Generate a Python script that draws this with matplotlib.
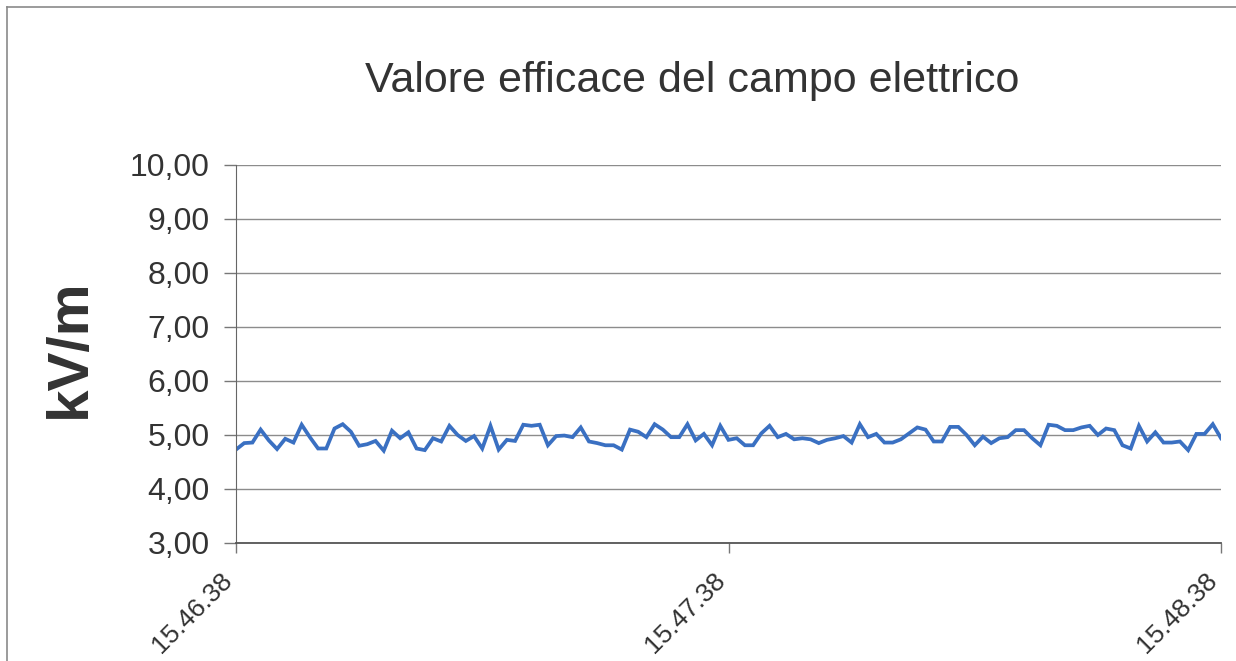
import matplotlib
matplotlib.use("Agg")
import matplotlib.pyplot as plt
from matplotlib.lines import Line2D
from matplotlib.transforms import ScaledTranslation

plt.rcParams['font.family'] = ['Liberation Sans', 'DejaVu Sans']

# un campione al secondo, dalle 15.46.38 alle 15.48.38
seconds = list(range(121))
campo_kvm = [
    4.73, 4.85, 4.86, 5.10, 4.90, 4.74, 4.93, 4.86, 5.19, 4.96,
    4.75, 4.75, 5.12, 5.20, 5.06, 4.80, 4.83, 4.89, 4.71, 5.08,
    4.94, 5.05, 4.75, 4.72, 4.94, 4.88, 5.17, 5.00, 4.89, 4.98,
    4.75, 5.17, 4.73, 4.91, 4.89, 5.19, 5.17, 5.19, 4.81, 4.98,
    4.99, 4.96, 5.14, 4.88, 4.85, 4.81, 4.81, 4.73, 5.10, 5.06,
    4.96, 5.20, 5.10, 4.96, 4.96, 5.20, 4.90, 5.02, 4.81, 5.17,
    4.91, 4.94, 4.81, 4.81, 5.03, 5.17, 4.96, 5.02, 4.92, 4.94,
    4.92, 4.85, 4.91, 4.94, 4.98, 4.86, 5.20, 4.96, 5.02, 4.86,
    4.86, 4.92, 5.03, 5.14, 5.10, 4.88, 4.88, 5.15, 5.15, 5.00,
    4.81, 4.97, 4.85, 4.94, 4.96, 5.09, 5.09, 4.94, 4.81, 5.19,
    5.17, 5.09, 5.09, 5.14, 5.17, 5.00, 5.12, 5.09, 4.81, 4.75,
    5.17, 4.88, 5.05, 4.86, 4.86, 4.88, 4.72, 5.02, 5.02, 5.20,
    4.94,
]
tick_pos = [0, 60, 120]
tick_labels = ['15.46.38', '15.47.38', '15.48.38']
y_ticks = [3, 4, 5, 6, 7, 8, 9, 10]

fig = plt.figure(figsize=(12.36, 6.61), dpi=100)
ax = fig.add_axes([236 / 1236, 1 - 543 / 661, (1221 - 236) / 1236, (543 - 165) / 661])

# cornice del grafico (solo bordo sinistro e superiore visibili)
fig.add_artist(Line2D([7 / 1236, 7 / 1236], [0, 1 - 7 / 661], transform=fig.transFigure,
                      color='#8a8a8a', lw=1.2))
fig.add_artist(Line2D([7 / 1236, 1], [1 - 7 / 661, 1 - 7 / 661], transform=fig.transFigure,
                      color='#8a8a8a', lw=1.2))

ax.plot(seconds, campo_kvm, color='#3a70c2', lw=2.7, solid_joinstyle='miter')

ax.set_xlim(0, 120)
ax.set_ylim(3, 10)
ax.set_yticks(y_ticks)
ax.set_yticklabels([f'{v:.2f}'.replace('.', ',') for v in y_ticks], fontsize=23, color='#333333')
ax.set_xticks(tick_pos)
ax.set_xticklabels(tick_labels, rotation=45, ha='right', rotation_mode='anchor',
                   fontsize=19, color='#333333')
ax.tick_params(axis='y', length=9, width=1, color='#777777', pad=10)
ax.tick_params(axis='x', length=7, width=1, color='#777777', pad=4)

# sposta le etichette dell'asse x come nell'originale
shift = ScaledTranslation(-16 / 100, -10 / 100, fig.dpi_scale_trans)
for lab in ax.get_xticklabels():
    lab.set_transform(lab.get_transform() + shift)

ax.grid(axis='y', color='#8c8c8c', lw=1)
ax.set_axisbelow(True)
for side in ['top', 'right']:
    ax.spines[side].set_visible(False)
ax.spines['left'].set_color('#666666')
ax.spines['bottom'].set_color('#555555')
ax.spines['bottom'].set_linewidth(1.3)

fig.text(692 / 1236, 1 - 92 / 661, 'Valore efficace del campo elettrico',
         ha='center', va='baseline', fontsize=31, color='#333333')
fig.text(70 / 1236, 1 - 348 / 661, 'kV/m', rotation=90, ha='center', va='center',
         fontsize=42, fontweight='bold', color='#333333')

fig.savefig('out.png', dpi=100)
